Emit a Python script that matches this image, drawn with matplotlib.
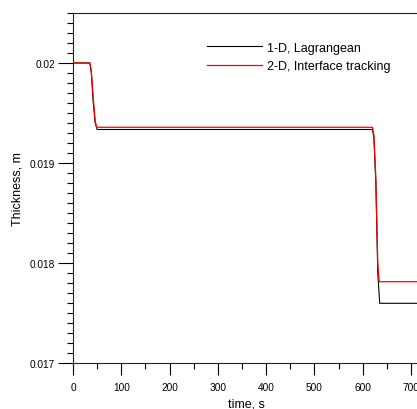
import matplotlib
matplotlib.use("Agg")
import matplotlib.pyplot as plt
from matplotlib.ticker import MultipleLocator

plt.rcParams['font.family'] = ['Liberation Sans', 'DejaVu Sans']

# 1-D, Lagrangean
t_1d = [0, 35, 38, 42, 46, 50, 620, 623, 627, 631, 635, 800]
h_1d = [0.02, 0.02, 0.01990, 0.01960, 0.01940, 0.019335, 0.019335, 0.01925, 0.01880, 0.01790, 0.017597, 0.017597]

# 2-D, Interface tracking
t_2d = [0, 35, 38, 42, 46, 49, 620, 623, 627, 631, 634, 800]
h_2d = [0.02, 0.02, 0.01992, 0.01965, 0.01942, 0.019357, 0.019357, 0.01928, 0.01885, 0.01800, 0.017813, 0.017813]

fig = plt.figure(figsize=(4.17, 4.10), dpi=100)
ax = fig.add_axes([0.175, 0.1122, 0.9267, 0.8537])

ax.plot(t_1d, h_1d, color="black", lw=0.8, label="1-D, Lagrangean")
ax.plot(t_2d, h_2d, color="red", lw=0.9, label="2-D, Interface tracking")

ax.set_xlim(0, 800)
ax.set_ylim(0.017, 0.0205)

ax.xaxis.set_major_locator(MultipleLocator(100))
ax.xaxis.set_minor_locator(MultipleLocator(50))
ax.yaxis.set_major_locator(MultipleLocator(0.001))
ax.yaxis.set_minor_locator(MultipleLocator(0.0001))
ax.yaxis.set_major_formatter(plt.FuncFormatter(lambda v, p: ("%g" % round(v, 4))))

ax.spines["right"].set_visible(False)
for s in ax.spines.values():
    s.set_linewidth(0.8)
    s.set_color("#222222")

# tick lengths in points (dpi 100)
ax.tick_params(axis="x", which="major", direction="out", length=8.6, width=0.8, labelsize=7.3, pad=5)
ax.tick_params(axis="x", which="minor", direction="out", length=4.3, width=0.8)
ax.tick_params(axis="y", which="major", direction="out", length=11, width=0.8, labelsize=7.3, pad=2)
ax.tick_params(axis="y", which="minor", direction="out", length=4.3, width=0.8)

fig.text(0.592, 0.014, "time, s", fontsize=9, ha="center", va="center")
fig.text(0.043, 0.54, "Thickness, m", rotation=90, fontsize=9, ha="center", va="center")

ax.legend(loc="upper left", bbox_to_anchor=(0.348, 0.918), frameon=False, fontsize=9,
          handlelength=4.4, handletextpad=0.4, labelspacing=0.5, borderaxespad=0,
          borderpad=0)

fig.savefig("out.png", dpi=100)
